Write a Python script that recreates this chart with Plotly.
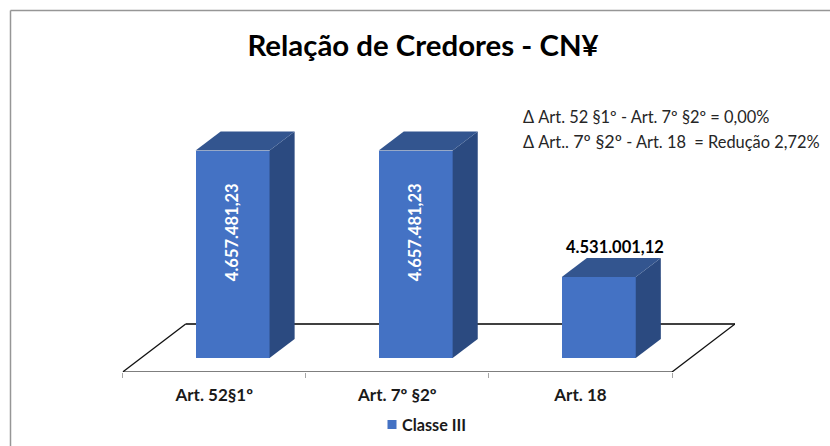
import plotly.graph_objects as go

categories = ["Art. 52§1º", "Art. 7º §2º", "Art. 18"]
series_name = "Classe III"
values = [4657481.23, 4657481.23, 4531001.12]
value_labels = ["4.657.481,23", "4.657.481,23", "4.531.001,12"]
title_text = "Relação de Credores - CN¥"
note_1 = "Δ Art. 52 §1º - Art. 7º §2º = 0,00%"
note_2 = 'Δ Art.. <span style="font-size:18px">7º §2º</span> - Art. 18  = Redução 2,72%'

BASE = 4450000
FONT = "Lato"
FRONT, TOP, SIDE = "#4472C4", "#33558F", "#2B4A80"
SHIFT, BAR_W = 0.1, 0.404
DX, DY = 0.137, 19000
FX, FY = 0.344, 48000
FLOOR_Y = BASE - 14000
W, H = 830, 446

positions = list(range(len(categories)))
fig = go.Figure()

fig.add_trace(go.Bar(
    x=[p + SHIFT for p in positions], y=[v - BASE for v in values], base=BASE,
    width=BAR_W, marker=dict(color=FRONT, line=dict(width=0)),
    name=f"<b>{series_name}</b>", hoverinfo="skip", showlegend=True))

for p, v in zip(positions, values):
    l = p + SHIFT - BAR_W / 2
    r = p + SHIFT + BAR_W / 2
    fig.add_trace(go.Scatter(
        x=[r, r + DX, r + DX, r, r], y=[BASE, BASE + DY, v + DY, v, BASE],
        mode="lines", fill="toself", fillcolor=SIDE, line=dict(width=0),
        showlegend=False, hoverinfo="skip"))
    fig.add_trace(go.Scatter(
        x=[l, l + DX, r + DX, r, l], y=[v, v + DY, v + DY, v, v],
        mode="lines", fill="toself", fillcolor=TOP, line=dict(width=0),
        showlegend=False, hoverinfo="skip"))

left, right = -0.5, len(categories) - 0.5
floor_lines = [
    (left, FLOOR_Y, right, FLOOR_Y, "#7F7F7F", 2),
    (left + FX, FLOOR_Y + FY, right + FX, FLOOR_Y + FY, "#404040", 2),
    (left, FLOOR_Y, left + FX, FLOOR_Y + FY, "#111111", 1.3),
    (right, FLOOR_Y, right + FX, FLOOR_Y + FY, "#111111", 1.3),
]
shapes = [dict(type="line", xref="x", yref="y", x0=a, y0=b, x1=c, y1=d,
               line=dict(color=col, width=w), layer="below")
          for a, b, c, d, col, w in floor_lines]


def px(v):
    return v / W


def py(v):
    return 1 - v / H


shapes += [
    dict(type="line", xref="paper", yref="paper", x0=px(10.5), x1=1, y0=py(10.5), y1=py(10.5),
         line=dict(color="#969696", width=1.5)),
    dict(type="line", xref="paper", yref="paper", x0=px(10.5), x1=px(10.5), y0=0, y1=py(10.5),
         line=dict(color="#969696", width=1.5)),
]

annotations = []
for i in (0, 1):
    annotations.append(dict(x=positions[i] + SHIFT - 0.005, y=values[i] - 82000, text=f"<b>{value_labels[i]}</b>",
                            textangle=-90, showarrow=False,
                            font=dict(family=FONT, size=16.5, color="white")))
annotations.append(dict(x=positions[2] + SHIFT + 0.09, y=values[2] + 30000, text=f"<b>{value_labels[2]}</b>",
                        showarrow=False, font=dict(family=FONT, size=16.5, color="black")))
annotations.append(dict(xref="paper", yref="paper", x=px(522), y=py(105), xanchor="left", xshift=-1, text=note_1,
                        showarrow=False, font=dict(family=FONT, size=16.4, color="#262626")))
annotations.append(dict(xref="paper", yref="paper", x=px(522), y=py(128), xanchor="left", xshift=-1, text=note_2,
                        showarrow=False, font=dict(family=FONT, size=16.4, color="#262626")))

fig.update_layout(
    width=W, height=H,
    margin=dict(l=0, r=0, t=0, b=0),
    paper_bgcolor="white", plot_bgcolor="rgba(0,0,0,0)",
    title=dict(text=f"<b>{title_text}</b>", x=px(423), xanchor="center", y=py(46), yanchor="middle",
               font=dict(family=FONT, size=29.4, color="black")),
    xaxis=dict(domain=[px(122.7), px(735)], range=[left, right + FX], tickvals=positions,
               ticktext=[f"<b>{c}</b>" for c in categories],
               ticks="", showgrid=False, zeroline=False, showline=False, automargin=False,
               ticklabelstandoff=11,
               tickfont=dict(family=FONT, size=17, color="#1a1a1a"),
               minor=dict(tickvals=[-0.5, 0.5, 1.5, 2.5], ticks="outside", ticklen=5, tickcolor="#A6A6A6",
                          tickwidth=1, showgrid=False)),
    yaxis=dict(domain=[py(372), py(120)], range=[FLOOR_Y, FLOOR_Y + 252000], visible=False, automargin=False),
    legend=dict(orientation="h", x=px(417), y=py(425), xanchor="center", yanchor="middle",
                font=dict(family=FONT, size=16.2, color="#1a1a1a"), bgcolor="rgba(0,0,0,0)"),
    shapes=shapes, annotations=annotations, bargap=0,
)

fig.write_html(
    "out.html",
    config={"displayModeBar": False},
    post_script=(
        "document.body.style.margin='0';document.body.style.overflow='hidden';"
        "(function(){var gd=document.getElementById('{plot_id}');"
        "function tweak(){gd.querySelectorAll('g.legendpoints path').forEach(function(e){"
        "e.setAttribute('transform','translate(30,0) scale(0.75)');"
        "e.style.transform='translate(30px,0px) scale(0.75)';});}"
        "tweak();setTimeout(tweak,0);setTimeout(tweak,100);setTimeout(tweak,500);})();"
    ),
)
